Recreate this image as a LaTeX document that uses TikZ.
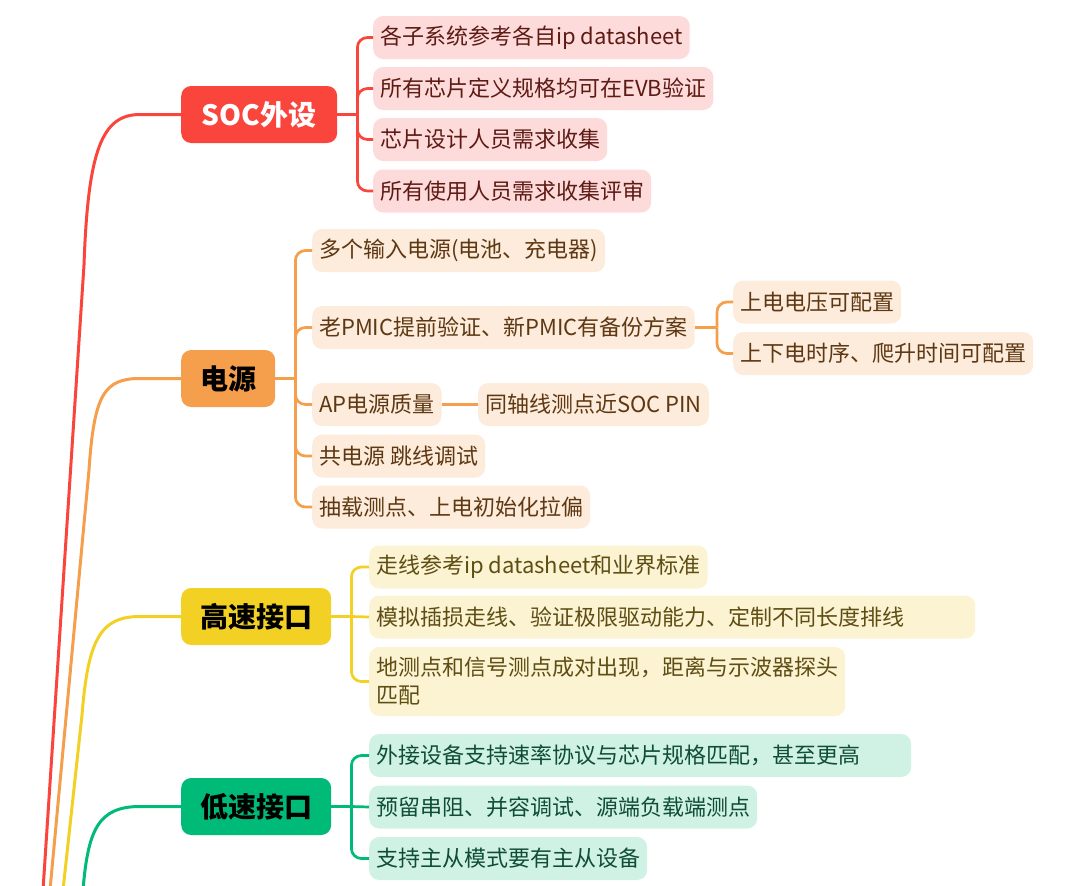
\documentclass[tikz,border=0pt]{standalone}
\usepackage{fontspec}
\setmainfont{Noto Sans CJK SC}
\definecolor{rM}{HTML}{F9453C}
\definecolor{rL}{HTML}{FDDBDA}
\definecolor{rT}{HTML}{5E1A14}
\definecolor{oM}{HTML}{F59E4B}
\definecolor{oL}{HTML}{FDEBDB}
\definecolor{oT}{HTML}{5E3812}
\definecolor{yM}{HTML}{F2D024}
\definecolor{yL}{HTML}{FBF3D2}
\definecolor{yT}{HTML}{5E4E14}
\definecolor{gM}{HTML}{00BA78}
\definecolor{gL}{HTML}{D0F2E4}
\definecolor{gT}{HTML}{0F4D38}
\begin{document}
\begin{tikzpicture}[x=1pt,y=-1pt,
  main/.style={rounded corners=10pt, minimum height=57pt, inner xsep=19pt, inner ysep=0pt,
    anchor=west, font=\fontsize{28}{32}\selectfont\bfseries},
  leaf/.style={rounded corners=10pt, minimum height=43pt, inner xsep=7pt, inner ysep=0pt,
    anchor=west, font=\fontsize{22}{28}\selectfont},
  rleaf/.style={leaf, fill=rL, text=rT},
  oleaf/.style={leaf, fill=oL, text=oT},
  yleaf/.style={leaf, fill=yL, text=yT},
  gleaf/.style={leaf, fill=gL, text=gT},
  trunk/.style={line width=3pt},
  twig/.style={line width=2.7pt, rounded corners=10pt},
]
\useasboundingbox (0,0) rectangle (1080,886);

% main nodes
\node[main, fill=rM, text=white, minimum width=156pt] (soc) at (181,114.5) {SOC外设};
\node[main, fill=oM, text=black] (pwr) at (181,378.5) {电源};
\node[main, fill=yM, text=black] (hs) at (181,616.5) {高速接口};
\node[main, fill=gM, text=black] (ls) at (181,806.5) {低速接口};

% root trunks (root lies below the picture)
\coordinate (rr) at (43,890);
\coordinate (ro) at (50,890);
\coordinate (ry) at (63,890);
\coordinate (rg) at (83,890);
\draw[trunk, rM] (rr) -- (84,265) .. controls (88,150) and (102,114.5) .. (140,114.5) -- (soc.west);
\draw[trunk, oM] (ro) -- (89,470) .. controls (94,395) and (104,378.5) .. (140,378.5) -- (pwr.west);
\draw[trunk, yM] (ry) -- (82,715) .. controls (88,640) and (100,616.5) .. (140,616.5) -- (hs.west);
\draw[trunk, gM] (rg) .. controls (88,830) and (98,806.5) .. (140,806.5) -- (ls.west);

% SOC children
\node[rleaf] (s1) at (373,37.5) {各子系统参考各自ip datasheet};
\node[rleaf] (s2) at (373,88.5) {所有芯片定义规格均可在EVB验证};
\node[rleaf] (s3) at (373,139.5) {芯片设计人员需求收集};
\node[rleaf] (s4) at (373,191) {所有使用人员需求收集评审};
\draw[twig, rM] (soc.east) -- ++(20,0) coordinate (sj);
\foreach \c in {s1,s2,s3,s4} \draw[twig, rM] (sj) |- (\c.west);

% power children
\node[oleaf] (p1) at (312,250.5) {多个输入电源(电池、充电器)};
\node[oleaf] (p2) at (312,327.5) {老PMIC提前验证、新PMIC有备份方案};
\node[oleaf] (p3) at (312,404.5) {AP电源质量};
\node[oleaf] (p4) at (312,456) {共电源 跳线调试};
\node[oleaf] (p5) at (312,507) {抽载测点、上电初始化拉偏};
\draw[twig, oM] (pwr.east) -- ++(20,0) coordinate (pj);
\foreach \c in {p1,p2,p3,p4,p5} \draw[twig, oM] (pj) |- (\c.west);

\node[oleaf] (q1) at (733,302) {上电电压可配置};
\node[oleaf] (q2) at (733,353.5) {上下电时序、爬升时间可配置};
\draw[twig, oM] (p2.east) -- (717,327.5) coordinate (qj);
\foreach \c in {q1,q2} \draw[twig, oM] (qj) |- (\c.west);

\node[oleaf] (a1) at (478,404.5) {同轴线测点近SOC PIN};
\draw[twig, oM] (p3.east) -- (a1.west);

% high speed children
\node[yleaf] (h1) at (369,567) {走线参考ip datasheet和业界标准};
\node[yleaf, text width=592pt, align=left] (h2) at (369,617) {模拟插损走线、验证极限驱动能力、定制不同长度排线};
\node[yleaf, align=left, minimum height=69pt] (h3) at (369,681.5) {地测点和信号测点成对出现，距离与示波器探头\\匹配};
\draw[twig, yM] (hs.east) -- ++(20,0) coordinate (hj);
\foreach \c in {h1,h3} \draw[twig, yM] (hj) |- (\c.west);
\draw[twig, yM] (hj) -- (h2.west);

% low speed children
\node[gleaf, text width=528pt, align=left] (l1) at (369,755.5) {外接设备支持速率协议与芯片规格匹配，甚至更高};
\node[gleaf] (l2) at (369,807) {预留串阻、并容调试、源端负载端测点};
\node[gleaf] (l3) at (369,858.5) {支持主从模式要有主从设备};
\draw[twig, gM] (ls.east) -- ++(20,0) coordinate (lj);
\foreach \c in {l1,l3} \draw[twig, gM] (lj) |- (\c.west);
\draw[twig, gM] (lj) -- (l2.west);
\end{tikzpicture}
\end{document}
